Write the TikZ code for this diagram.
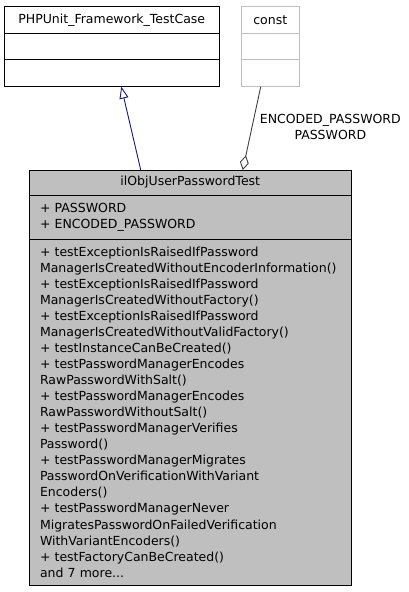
\documentclass[tikz,border=0pt]{standalone}
\usepackage{fontspec}
\setmainfont{DejaVu Sans}
\usetikzlibrary{arrows.meta}

\definecolor{classgray}{HTML}{BFBFBF}
\definecolor{edgeblue}{HTML}{191970}
\definecolor{edgegray}{HTML}{404040}

\begin{document}
\begin{tikzpicture}[x=1pt, y=-1pt,
	part/.style={draw, line width=1pt, anchor=north west, inner sep=0pt, outer sep=0pt,
		font=\fontsize{12.5}{16}\selectfont},
	title/.style={part, minimum height=26.7pt, align=center},
	blank/.style={part, minimum height=26.7pt},
	members/.style={part, align=left, text width=#1, inner xsep=11pt},
	inherit/.style={draw=edgeblue, line width=0.9pt,
		-{Triangle[open, length=12pt, width=9pt, fill=white]}},
	usage/.style={draw=edgegray, line width=0.9pt,
		{Diamond[open, length=15pt, width=9pt, fill=white]}-}]
	
	\useasboundingbox (0,0) rectangle (408,592);
	
	% base class
	\node[title, minimum width=214.5pt] (baseTitle) at (4.5,6.5) {PHPUnit\_Framework\_TestCase};
	\node[blank, minimum width=214.5pt] (baseAttr) at (baseTitle.south west) {};
	\node[blank, minimum width=214.5pt] (baseMeth) at (baseAttr.south west) {};
	
	% const
	\node[title, draw=classgray, minimum width=57.5pt] (constTitle) at (241.5,6.5) {const};
	\node[blank, draw=classgray, minimum width=57.5pt] (constAttr) at (constTitle.south west) {};
	\node[blank, draw=classgray, minimum width=57.5pt] (constMeth) at (constAttr.south west) {};
	
	% test class
	\node[title, fill=classgray, minimum width=322.5pt, minimum height=25pt] (testTitle) at (29,170) {ilObjUserPasswordTest};
	\node[members=300.5pt, fill=classgray, minimum height=44pt] (testAttr) at (testTitle.south west) {%
		+ PASSWORD\\
		+ ENCODED\_PASSWORD};
	\node[members=300.5pt, fill=classgray, minimum height=346pt,
		font=\fontsize{12.5}{16.05}\selectfont] (testMeth) at (testAttr.south west) {%
		+ testExceptionIsRaisedIfPassword\\
		ManagerIsCreatedWithoutEncoderInformation()\\
		+ testExceptionIsRaisedIfPassword\\
		ManagerIsCreatedWithoutFactory()\\
		+ testExceptionIsRaisedIfPassword\\
		ManagerIsCreatedWithoutValidFactory()\\
		+ testInstanceCanBeCreated()\\
		+ testPasswordManagerEncodes\\
		RawPasswordWithSalt()\\
		+ testPasswordManagerEncodes\\
		RawPasswordWithoutSalt()\\
		+ testPasswordManagerVerifies\\
		Password()\\
		+ testPasswordManagerMigrates\\
		PasswordOnVerificationWithVariant\\
		Encoders()\\
		+ testPasswordManagerNever\\
		MigratesPasswordOnFailedVerification\\
		WithVariantEncoders()\\
		+ testFactoryCanBeCreated()\\
		and 7 more...};
	
	% relations
	\draw[inherit] ([xshift=-49.5pt]testTitle.north) -- ([xshift=9.5pt]baseMeth.south);
	\draw[usage] ([xshift=52.5pt]testTitle.north) -- ([xshift=-9.5pt]constMeth.south)
		node[pos=0.52, right=4pt, align=center, font=\fontsize{12.5}{16}\selectfont] (constLabel) {ENCODED\_PASSWORD\\PASSWORD};
	
\end{tikzpicture}
\end{document}
